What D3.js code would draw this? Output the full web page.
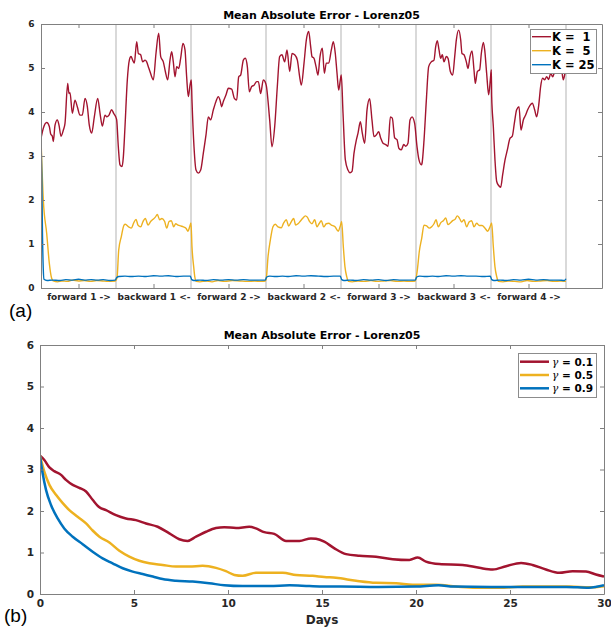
<!DOCTYPE html>
<html><head><meta charset="utf-8">
<script src="https://cdn.jsdelivr.net/npm/d3@7"></script>
<style>body{margin:0;background:#fff} svg{display:block} text{font-family:"DejaVu Sans",sans-serif}</style>
</head><body><svg id="c" width="611" height="627"></svg>
<script>
// ---------- DATA ----------
const chartTitle = "Mean Absolute Error - Lorenz05";
const segLabels = ["forward 1 ->","backward 1 <-","forward 2 ->","backward 2 <-","forward 3 ->","backward 3 <-","forward 4 ->"];
const segBounds = [1,2,3,4,5,6,7];
const yTicks = [0,1,2,3,4,5,6];
const dayTicks = [0,5,10,15,20,25,30];
const topNames = ["K =  1","K =  5","K = 25"];
const botNames = ["0.1","0.5","0.9"];

// (a) x = position along the forward/backward cycle, y = MAE
const k1 = [[0,3.40],[0.031,3.63],[0.076,3.76],[0.111,3.67],[0.129,3.50],[0.151,3.45],[0.164,3.33],[0.187,3.70],[0.218,3.82],[0.240,3.70],[0.267,3.45],[0.298,3.59],[0.320,3.74],[0.356,4.65],[0.373,4.42],[0.387,4.44],[0.418,3.97],[0.453,4.27],[0.484,4.12],[0.520,3.93],[0.551,3.93],[0.587,4.31],[0.618,4.12],[0.644,3.70],[0.676,3.52],[0.711,3.89],[0.756,4.31],[0.787,3.97],[0.818,3.68],[0.853,3.93],[0.876,3.89],[0.907,3.93],[0.942,4.05],[0.969,3.97],[0.996,3.89],
[1.009,3.82],[1.031,3.21],[1.053,2.80],[1.080,2.76],[1.098,2.98],[1.120,3.67],[1.151,4.73],[1.178,5.18],[1.200,5.26],[1.222,5.18],[1.244,5.11],[1.276,5.60],[1.298,5.33],[1.329,5.30],[1.356,5.14],[1.387,5.18],[1.409,5.14],[1.431,5.03],[1.453,4.92],[1.498,4.73],[1.533,5.33],[1.569,5.79],[1.596,5.26],[1.631,5.14],[1.658,4.92],[1.689,4.73],[1.720,5.18],[1.742,5.37],[1.764,5.14],[1.787,4.80],[1.809,5.03],[1.836,4.99],[1.862,5.22],[1.893,5.56],[1.920,5.41],[1.942,4.80],[1.964,4.35],[1.987,4.61],[2.004,4.73],
[2.013,4.27],[2.040,3.21],[2.067,2.68],[2.098,2.61],[2.129,2.68],[2.164,3.06],[2.200,3.48],[2.231,3.89],[2.262,3.82],[2.298,4.05],[2.333,4.24],[2.364,4.35],[2.387,4.27],[2.409,4.12],[2.431,4.24],[2.467,4.39],[2.498,4.54],[2.542,4.52],[2.578,4.31],[2.609,4.27],[2.636,4.80],[2.662,4.84],[2.698,5.18],[2.724,5.22],[2.751,5.03],[2.778,4.46],[2.809,4.58],[2.840,4.61],[2.876,4.69],[2.898,4.69],[2.929,4.42],[2.964,4.73],[2.987,4.69],[3.004,4.60],
[3.049,3.82],[3.080,3.21],[3.116,3.67],[3.151,4.58],[3.182,5.26],[3.213,5.30],[3.249,5.14],[3.280,5.41],[3.316,4.92],[3.347,5.33],[3.382,5.30],[3.418,5.18],[3.449,4.80],[3.471,4.61],[3.507,5.11],[3.538,5.64],[3.569,5.83],[3.596,5.48],[3.613,5.26],[3.640,5.22],[3.667,5.03],[3.693,4.84],[3.720,5.26],[3.751,5.45],[3.778,4.88],[3.804,5.11],[3.836,5.11],[3.871,5.41],[3.898,5.60],[3.924,5.33],[3.947,4.88],[3.969,4.50],[3.991,4.73],[4.004,4.84],
[4.027,3.97],[4.058,2.91],[4.093,2.68],[4.120,2.62],[4.147,2.65],[4.173,3.06],[4.204,3.36],[4.227,3.52],[4.258,3.78],[4.284,3.52],[4.316,3.29],[4.347,4.05],[4.382,4.30],[4.413,3.82],[4.440,3.44],[4.471,3.48],[4.502,3.55],[4.529,3.41],[4.560,3.29],[4.596,3.26],[4.627,3.22],[4.658,3.89],[4.684,3.86],[4.716,3.41],[4.747,3.37],[4.773,3.17],[4.804,3.14],[4.836,3.26],[4.862,3.22],[4.893,3.29],[4.920,3.82],[4.947,3.89],[4.982,3.74],[5.013,3.22],[5.040,2.91],[5.071,2.80],
[5.080,2.83],[5.107,3.36],[5.138,4.27],[5.169,5.03],[5.204,5.14],[5.240,5.18],[5.262,5.48],[5.284,5.62],[5.307,5.41],[5.329,5.22],[5.351,5.30],[5.373,5.14],[5.404,5.26],[5.427,5.22],[5.458,4.92],[5.489,4.84],[5.516,5.26],[5.538,5.64],[5.569,5.86],[5.596,5.64],[5.613,5.33],[5.640,5.30],[5.671,5.14],[5.693,4.99],[5.720,5.26],[5.747,5.39],[5.773,4.96],[5.791,4.65],[5.818,4.92],[5.849,4.96],[5.871,5.33],[5.898,5.58],[5.916,5.41],[5.942,4.88],[5.969,4.39],[5.991,4.73],[6.004,4.96],
[6.009,4.35],[6.031,3.67],[6.053,2.91],[6.076,2.42],[6.102,2.33],[6.129,2.29],[6.156,2.58],[6.187,2.91],[6.218,3.14],[6.253,3.40],[6.284,3.45],[6.311,3.74],[6.342,4.05],[6.373,4.12],[6.400,3.59],[6.431,3.82],[6.462,3.93],[6.489,4.05],[6.520,4.15],[6.551,4.20],[6.582,4.05],[6.609,3.89],[6.636,4.15],[6.662,4.58],[6.689,4.77],[6.716,4.73],[6.742,4.80],[6.769,4.74],[6.796,4.88],[6.822,4.80],[6.849,4.92],[6.876,5.03],[6.911,5.06],[6.942,4.95],[6.964,4.73],[6.987,4.88],[7.004,4.99]];

const k5 = [[0,3.40],[0.031,2.00],[0.076,1.24],[0.111,0.56],[0.142,0.22],[0.164,0.16],[0.22,0.14],[0.28,0.16],[0.35,0.15],[0.42,0.18],[0.50,0.16],[0.58,0.17],[0.66,0.15],[0.74,0.17],[0.82,0.16],[0.90,0.15],[0.99,0.16],
[1.013,0.22],[1.036,0.86],[1.071,1.17],[1.107,1.43],[1.124,1.45],[1.169,1.39],[1.204,1.36],[1.236,1.48],[1.267,1.56],[1.293,1.43],[1.329,1.39],[1.360,1.51],[1.391,1.58],[1.427,1.43],[1.462,1.51],[1.493,1.56],[1.524,1.61],[1.551,1.67],[1.582,1.55],[1.613,1.58],[1.649,1.51],[1.676,1.36],[1.707,1.51],[1.738,1.53],[1.769,1.39],[1.796,1.46],[1.827,1.43],[1.862,1.41],[1.898,1.39],[1.933,1.36],[1.960,1.29],[1.982,1.39],[2.000,1.48],
[2.013,0.94],[2.036,0.48],[2.050,0.26],[2.071,0.15],[2.12,0.14],[2.20,0.16],[2.28,0.14],[2.36,0.17],[2.45,0.15],[2.55,0.17],[2.65,0.16],[2.75,0.15],[2.85,0.16],[2.93,0.15],[2.99,0.16],
[3.004,0.22],[3.027,0.71],[3.058,1.09],[3.093,1.39],[3.124,1.45],[3.160,1.39],[3.204,1.37],[3.236,1.48],[3.271,1.55],[3.302,1.41],[3.338,1.51],[3.369,1.58],[3.396,1.43],[3.427,1.46],[3.462,1.53],[3.493,1.59],[3.524,1.64],[3.551,1.61],[3.582,1.51],[3.613,1.46],[3.649,1.55],[3.680,1.39],[3.707,1.46],[3.738,1.53],[3.769,1.39],[3.804,1.46],[3.836,1.47],[3.871,1.43],[3.920,1.39],[3.964,1.29],[3.987,1.39],[4.009,1.51],
[4.031,0.94],[4.053,0.48],[4.076,0.26],[4.098,0.15],[4.15,0.14],[4.23,0.16],[4.31,0.15],[4.40,0.17],[4.48,0.15],[4.57,0.16],[4.66,0.17],[4.75,0.15],[4.84,0.16],[4.92,0.15],[4.99,0.16],
[5.018,0.41],[5.044,0.83],[5.076,1.13],[5.107,1.43],[5.142,1.41],[5.178,1.36],[5.209,1.39],[5.240,1.46],[5.267,1.55],[5.298,1.39],[5.329,1.48],[5.364,1.53],[5.396,1.59],[5.427,1.44],[5.453,1.47],[5.489,1.53],[5.520,1.56],[5.551,1.64],[5.578,1.59],[5.609,1.50],[5.640,1.55],[5.676,1.39],[5.707,1.50],[5.742,1.53],[5.773,1.39],[5.809,1.47],[5.844,1.42],[5.880,1.42],[5.920,1.36],[5.956,1.29],[5.987,1.39],[6.009,1.48],
[6.031,0.94],[6.053,0.48],[6.076,0.26],[6.098,0.15],[6.16,0.14],[6.24,0.16],[6.32,0.15],[6.40,0.14],[6.48,0.17],[6.57,0.15],[6.66,0.16],[6.75,0.17],[6.84,0.15],[6.92,0.16],[7.0,0.15]];

const k25 = [[0,3.40],[0.010,2.60],[0.020,1.20],[0.030,0.45],[0.040,0.20],[0.08,0.17],[0.15,0.18],[0.25,0.17],[0.33,0.19],[0.42,0.18],[0.50,0.20],[0.58,0.18],[0.67,0.19],[0.75,0.18],[0.83,0.19],[0.92,0.17],[0.99,0.18],
[1.01,0.24],[1.04,0.26],[1.12,0.27],[1.20,0.26],[1.30,0.27],[1.40,0.26],[1.50,0.28],[1.60,0.27],[1.70,0.28],[1.80,0.26],[1.90,0.27],[1.99,0.27],
[2.01,0.19],[2.04,0.17],[2.12,0.18],[2.20,0.17],[2.30,0.19],[2.40,0.18],[2.50,0.19],[2.60,0.18],[2.70,0.19],[2.80,0.18],[2.90,0.18],[2.99,0.18],
[3.01,0.25],[3.05,0.27],[3.13,0.26],[3.22,0.27],[3.30,0.26],[3.40,0.28],[3.50,0.27],[3.60,0.28],[3.70,0.27],[3.80,0.26],[3.90,0.27],[3.99,0.27],
[4.01,0.19],[4.04,0.17],[4.12,0.18],[4.20,0.17],[4.30,0.19],[4.40,0.18],[4.50,0.19],[4.60,0.17],[4.70,0.19],[4.80,0.18],[4.90,0.18],[4.99,0.18],
[5.01,0.25],[5.05,0.27],[5.13,0.26],[5.22,0.27],[5.30,0.26],[5.40,0.28],[5.50,0.27],[5.60,0.28],[5.70,0.27],[5.80,0.27],[5.90,0.26],[5.99,0.27],
[6.01,0.19],[6.04,0.17],[6.12,0.18],[6.20,0.17],[6.30,0.19],[6.40,0.18],[6.50,0.20],[6.60,0.18],[6.70,0.19],[6.80,0.18],[6.90,0.18],[6.98,0.17],[7.0,0.21]];

// (b) x = days
const g01 = [[0,3.33],[0.23,3.23],[0.5,3.05],[0.76,2.96],[1.12,2.87],[1.38,2.75],[1.74,2.63],[2.09,2.56],[2.45,2.47],[2.8,2.27],[3.16,2.09],[3.51,2.02],[4.04,1.90],[4.57,1.82],[5.1,1.78],[5.64,1.70],[6.26,1.62],[6.88,1.46],[7.41,1.32],[7.85,1.28],[8.3,1.38],[8.83,1.50],[9.36,1.59],[9.8,1.61],[10.43,1.59],[11.13,1.62],[11.49,1.58],[11.93,1.49],[12.46,1.45],[13.09,1.28],[13.8,1.28],[14.41,1.34],[14.68,1.33],[15.12,1.26],[15.66,1.10],[16.28,0.96],[16.99,0.92],[17.87,0.90],[18.76,0.84],[19.65,0.82],[20.09,0.88],[20.53,0.78],[21.24,0.72],[22.48,0.70],[23.37,0.63],[24.08,0.59],[24.79,0.67],[25.59,0.75],[26.2,0.70],[26.91,0.59],[27.62,0.51],[28.33,0.55],[29.04,0.54],[29.57,0.47],[30,0.42]];
const g05 = [[0,3.33],[0.23,2.95],[0.5,2.63],[0.85,2.39],[1.21,2.19],[1.56,2.02],[2.0,1.86],[2.45,1.70],[2.8,1.53],[3.16,1.38],[3.69,1.24],[4.22,1.04],[4.75,0.90],[5.28,0.80],[5.82,0.74],[6.52,0.70],[7.23,0.66],[7.94,0.66],[8.65,0.68],[9.36,0.63],[9.89,0.55],[10.34,0.46],[10.78,0.44],[11.49,0.51],[12.2,0.51],[12.91,0.51],[13.62,0.46],[14.5,0.44],[15.12,0.41],[15.74,0.39],[16.81,0.32],[17.87,0.27],[18.94,0.26],[19.82,0.22],[21.06,0.22],[22.13,0.18],[23.19,0.15],[24.43,0.15],[25.67,0.18],[27.09,0.18],[28.16,0.18],[29.22,0.16],[30,0.19]];
const g09 = [[0,3.33],[0.14,2.91],[0.32,2.51],[0.59,2.14],[0.94,1.82],[1.29,1.58],[1.74,1.38],[2.27,1.20],[2.8,1.02],[3.33,0.86],[3.86,0.74],[4.4,0.62],[4.93,0.54],[5.46,0.48],[6.0,0.42],[6.52,0.36],[7.23,0.32],[8.12,0.30],[9.0,0.26],[9.8,0.21],[10.78,0.19],[12.2,0.19],[13.27,0.21],[14.33,0.19],[15.12,0.18],[16,0.18],[18,0.17],[20,0.18],[21.2,0.21],[22,0.18],[24,0.17],[26,0.17],[28,0.17],[29.2,0.15],[30,0.21]];

// ---------- STYLE ----------
const colors = ["#A2142F","#EDB120","#0072BD"];
const axisCol = "#808080", textCol = "#262626";

const svg = d3.select("#c");

// ===== Panel (a) =====
const xA = d3.scaleLinear().domain([0, 7.48]).range([41, 602]);
const yA = d3.scaleLinear().domain([0, 6]).range([288, 24]);

svg.append("defs").append("clipPath").attr("id","clipA").append("rect")
  .attr("x",41).attr("y",24).attr("width",561).attr("height",264);

// separators
svg.append("g").selectAll("line").data(segBounds).join("line")
  .attr("x1",d=>xA(d)).attr("x2",d=>xA(d)).attr("y1",24).attr("y2",288)
  .attr("stroke","#b3b3b3").attr("stroke-width",1);

const lineA = d3.line().x(d=>xA(d[0])).y(d=>yA(d[1])).curve(d3.curveMonotoneX);
const gA = svg.append("g").attr("clip-path","url(#clipA)");
[k1,k5,k25].forEach((s,i)=>{
  gA.append("path").datum(s).attr("d",lineA).attr("fill","none")
    .attr("stroke",colors[i]).attr("stroke-width",1.4).attr("stroke-linejoin","round");
});

function styleAxis(g, fs){
  g.select(".domain").attr("stroke",axisCol);
  g.selectAll(".tick line").attr("stroke",axisCol);
  g.selectAll(".tick text").attr("fill",textCol).style("font-weight","bold").style("font-size",fs+"px").style("font-family","DejaVu Sans");
}
const segMid = segLabels.map((_,i)=>i+0.5);
styleAxis(svg.append("g").attr("transform","translate(0,288)")
  .call(d3.axisBottom(xA).tickValues(segMid).tickFormat((d,i)=>segLabels[i]).tickSize(-4).tickSizeOuter(0).tickPadding(5.5)),9);
styleAxis(svg.append("g").attr("transform","translate(0,24)")
  .call(d3.axisTop(xA).tickValues(segMid).tickFormat("").tickSize(-4).tickSizeOuter(0)),9);
styleAxis(svg.append("g").attr("transform","translate(41,0)")
  .call(d3.axisLeft(yA).tickValues(yTicks).tickFormat(d3.format("d")).tickSize(-4).tickSizeOuter(0).tickPadding(6.5)),9);
styleAxis(svg.append("g").attr("transform","translate(602,0)")
  .call(d3.axisRight(yA).tickValues(yTicks).tickFormat("").tickSize(-4).tickSizeOuter(0)),9);

svg.append("text").attr("x",321.5).attr("y",19).attr("text-anchor","middle")
  .style("font-weight","bold").style("font-size","11px").attr("fill","#000").text(chartTitle);

// legend (a)
const legA = svg.append("g");
legA.append("rect").attr("x",530.5).attr("y",29.5).attr("width",66).attr("height",44)
  .attr("fill","#fff").attr("stroke","#8c8c8c").attr("stroke-width",1);
topNames.forEach((n,i)=>{
  const yy = 36.7 + i*14;
  legA.append("line").attr("x1",532).attr("x2",551).attr("y1",yy).attr("y2",yy)
    .attr("stroke",colors[i]).attr("stroke-width",1.4);
  legA.append("text").attr("x",552).attr("y",yy+4.2).attr("xml:space","preserve")
    .style("white-space","pre").style("font-weight","bold").style("font-size","11.5px").attr("fill","#000").text(n);
});

svg.append("text").attr("x",9).attr("y",317).style("font-family","Liberation Sans, Arial, sans-serif")
  .style("font-size","19px").attr("fill","#000").text("(a)");

// ===== Panel (b) =====
const xB = d3.scaleLinear().domain([0, 30]).range([40, 604]);
const yB = d3.scaleLinear().domain([0, 6]).range([594, 345]);

svg.select("defs").append("clipPath").attr("id","clipB").append("rect")
  .attr("x",40).attr("y",345).attr("width",564).attr("height",249);

const lineB = d3.line().x(d=>xB(d[0])).y(d=>yB(d[1])).curve(d3.curveMonotoneX);
const gB = svg.append("g").attr("clip-path","url(#clipB)");
[g01,g05,g09].forEach((s,i)=>{
  gB.append("path").datum(s).attr("d",lineB).attr("fill","none")
    .attr("stroke",colors[i]).attr("stroke-width",2.5).attr("stroke-linejoin","round");
});

styleAxis(svg.append("g").attr("transform","translate(0,594)")
  .call(d3.axisBottom(xB).tickValues(dayTicks).tickFormat(d3.format("d")).tickSize(-4).tickSizeOuter(0).tickPadding(6)),10.5);
styleAxis(svg.append("g").attr("transform","translate(0,345)")
  .call(d3.axisTop(xB).tickValues(dayTicks).tickFormat("").tickSize(-4).tickSizeOuter(0)),10.5);
styleAxis(svg.append("g").attr("transform","translate(40,0)")
  .call(d3.axisLeft(yB).tickValues(yTicks).tickFormat(d3.format("d")).tickSize(-4).tickSizeOuter(0).tickPadding(6)),10.5);
styleAxis(svg.append("g").attr("transform","translate(604,0)")
  .call(d3.axisRight(yB).tickValues(yTicks).tickFormat("").tickSize(-4).tickSizeOuter(0)),10.5);

svg.append("text").attr("x",322).attr("y",339).attr("text-anchor","middle")
  .style("font-weight","bold").style("font-size","11px").attr("fill","#000").text(chartTitle);
svg.append("text").attr("x",322).attr("y",624).attr("text-anchor","middle")
  .style("font-weight","bold").style("font-size","12px").attr("fill",textCol).text("Days");

// legend (b)
const legB = svg.append("g");
legB.append("rect").attr("x",518.5).attr("y",353.5).attr("width",78).attr("height",44)
  .attr("fill","#fff").attr("stroke","#8c8c8c").attr("stroke-width",1);
botNames.forEach((n,i)=>{
  const yy = 361.7 + i*13.3;
  legB.append("line").attr("x1",520).attr("x2",549).attr("y1",yy).attr("y2",yy)
    .attr("stroke",colors[i]).attr("stroke-width",2.5);
  const t = legB.append("text").attr("x",552).attr("y",yy+3.8).attr("fill","#000").style("font-size","10.5px");
  t.append("tspan").style("font-family","DejaVu Serif").style("font-style","italic").text("γ");
  t.append("tspan").style("font-weight","bold").text(" = " + n);
});

svg.append("text").attr("x",4).attr("y",622).style("font-family","Liberation Sans, Arial, sans-serif")
  .style("font-size","19px").attr("fill","#000").text("(b)");
</script>
</body></html>
